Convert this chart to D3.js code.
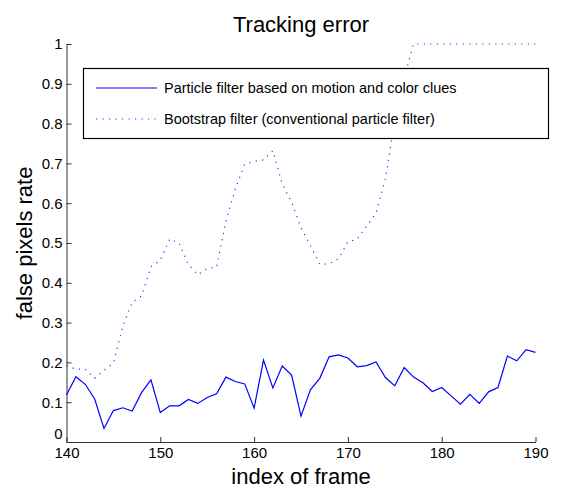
<!DOCTYPE html>
<head>
  <title>Tracking error</title>
  <meta charset="utf-8">
  <style>
    body { margin: 0; background: #fff; }
    text { font-family: "Liberation Sans", Arial, Helvetica, sans-serif; fill: #000; }
    .axis path, .axis line { stroke: #333; }
    .axis text { font-size: 15px; fill: #000; }
  </style>
</head>

<body>
  <script src="https://cdn.jsdelivr.net/npm/d3@7"></script>
  <script>
    // frame index (x) and the two error series
    var frames = [140, 141, 142, 143, 144, 145, 146, 147, 148, 149,
                  150, 151, 152, 153, 154, 155, 156, 157, 158, 159,
                  160, 161, 162, 163, 164, 165, 166, 167, 168, 169,
                  170, 171, 172, 173, 174, 175, 176, 177, 178, 179,
                  180, 181, 182, 183, 184, 185, 186, 187, 188, 189, 190];

    var motionColor = [0.118, 0.164, 0.145, 0.108, 0.034, 0.079, 0.086, 0.078, 0.124, 0.156,
                       0.074, 0.091, 0.091, 0.107, 0.097, 0.112, 0.121, 0.163, 0.152, 0.146,
                       0.085, 0.206, 0.136, 0.191, 0.168, 0.065, 0.131, 0.160, 0.214, 0.219,
                       0.211, 0.189, 0.192, 0.201, 0.162, 0.141, 0.187, 0.163, 0.149, 0.127,
                       0.137, 0.116, 0.095, 0.120, 0.097, 0.126, 0.137, 0.216, 0.204, 0.232, 0.225];

    var bootstrap = [0.192, 0.183, 0.183, 0.160, 0.180, 0.198, 0.290, 0.351, 0.367, 0.440,
                     0.457, 0.510, 0.500, 0.446, 0.420, 0.436, 0.440, 0.555, 0.636, 0.698,
                     0.705, 0.709, 0.732, 0.648, 0.603, 0.538, 0.494, 0.446, 0.448, 0.460,
                     0.503, 0.510, 0.543, 0.575, 0.661, 0.810, 0.915, 1.000, 1.000, 1.000,
                     1.000, 1.000, 1.000, 1.000, 1.000, 1.000, 1.000, 1.000, 1.000, 1.000, 1.000];

    var xTicks = [140, 150, 160, 170, 180, 190];
    var yTicks = [0, 0.1, 0.2, 0.3, 0.4, 0.5, 0.6, 0.7, 0.8, 0.9, 1];
    var yTickLabels = ["0", "0.1", "0.2", "0.3", "0.4", "0.5", "0.6", "0.7", "0.8", "0.9", "1"];
    var seriesNames = ["Particle filter based on motion and color clues",
                       "Bootstrap filter (conventional particle filter)"];

    var W = 574, H = 490;
    var plot = {left: 66.5, right: 535.5, top: 44, bottom: 442};

    var svg = d3.select("body").append("svg")
      .attr("width", W)
      .attr("height", H);

    var x = d3.scaleLinear().domain([140, 190]).range([plot.left, plot.right]);
    var y = d3.scaleLinear().domain([0, 1]).range([plot.bottom, plot.top]);

    // axes, ticks pointing inward like matlab
    svg.append("g")
      .attr("class", "axis")
      .attr("transform", "translate(0," + plot.bottom + ")")
      .call(d3.axisBottom(x).tickValues(xTicks).tickSizeInner(-5).tickSizeOuter(0).tickPadding(5)
        .tickFormat(d3.format("d")));

    var yAxis = svg.append("g")
      .attr("class", "axis")
      .attr("transform", "translate(" + plot.left + ",0)")
      .call(d3.axisLeft(y).tickValues(yTicks).tickSizeInner(-5).tickSizeOuter(0).tickPadding(4)
        .tickFormat(function(d, i) { return yTickLabels[i]; }));

    // the "0" sits a little higher so it clears the "140"
    yAxis.selectAll(".tick text")
      .filter(function(d) { return d === 0; })
      .attr("dy", "-0.22em");

    var line = d3.line()
      .x(function(d, i) { return x(frames[i]); })
      .y(function(d) { return y(d); });

    svg.append("path")
      .attr("d", line(bootstrap))
      .attr("fill", "none")
      .attr("stroke", "#0000ff")
      .attr("stroke-width", 1.2)
      .attr("stroke-dasharray", "1.2,5.3")
      .attr("opacity", 0.8);

    svg.append("path")
      .attr("d", line(motionColor))
      .attr("fill", "none")
      .attr("stroke", "#0000ff")
      .attr("stroke-width", 1.2);

    // legend
    var lg = svg.append("g").attr("id", "legend");
    lg.append("rect")
      .attr("x", 83.5).attr("y", 68.5)
      .attr("width", 465).attr("height", 70)
      .attr("fill", "#fff")
      .attr("stroke", "#000")
      .attr("stroke-width", 1.2);

    var rows = [88, 119];
    lg.append("line")
      .attr("x1", 96).attr("x2", 157).attr("y1", rows[0]).attr("y2", rows[0])
      .attr("stroke", "#0000ff").attr("stroke-width", 1.2);
    lg.append("line")
      .attr("x1", 96).attr("x2", 157).attr("y1", rows[1]).attr("y2", rows[1])
      .attr("stroke", "#0000ff").attr("stroke-width", 1.2)
      .attr("stroke-dasharray", "1.2,5.3").attr("opacity", 0.8);

    seriesNames.forEach(function(name, i) {
      lg.append("text")
        .attr("x", 164)
        .attr("y", rows[i])
        .attr("dy", "0.35em")
        .style("font-size", "14.5px")
        .text(name);
    });

    // titles
    svg.append("text")
      .attr("x", (plot.left + plot.right) / 2)
      .attr("y", 32)
      .attr("text-anchor", "middle")
      .style("font-size", "22px")
      .text("Tracking error");

    svg.append("text")
      .attr("x", (plot.left + plot.right) / 2)
      .attr("y", 484)
      .attr("text-anchor", "middle")
      .style("font-size", "22px")
      .text("index of frame");

    svg.append("text")
      .attr("transform", "rotate(-90)")
      .attr("x", -(plot.top + plot.bottom) / 2)
      .attr("y", 32)
      .attr("text-anchor", "middle")
      .style("font-size", "22px")
      .text("false pixels rate");
  </script>
</body>
